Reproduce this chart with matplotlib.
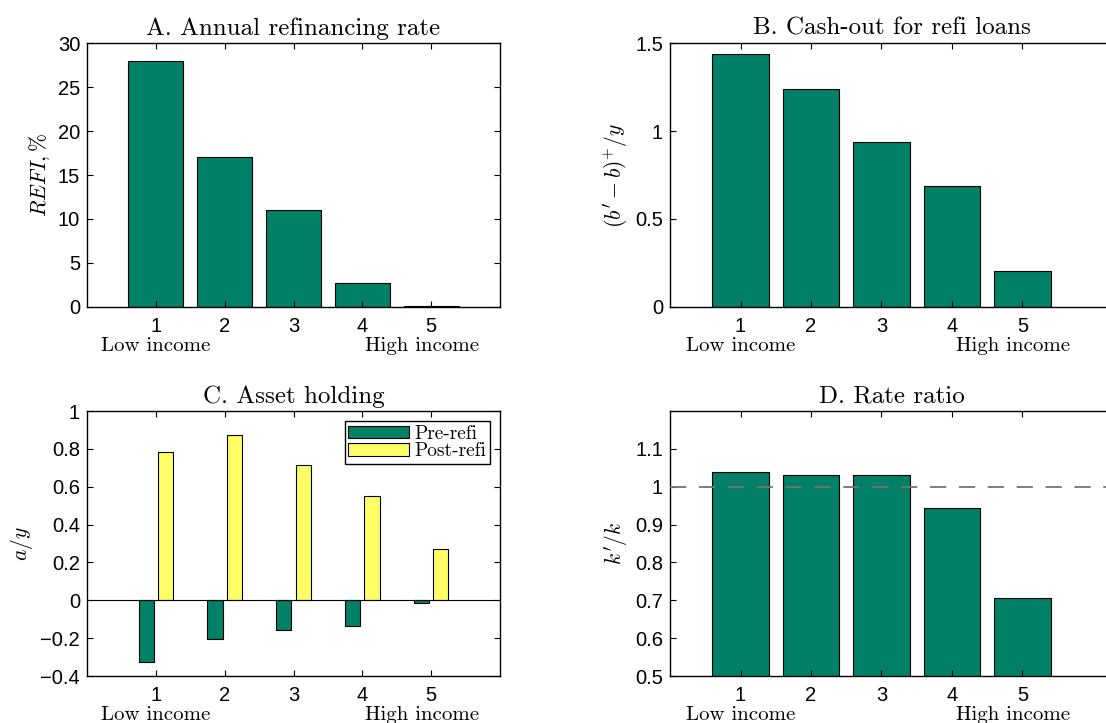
import numpy as np
import matplotlib.pyplot as plt
import matplotlib.transforms as mtransforms

# data
quintiles = [1, 2, 3, 4, 5]
refi_rate = [28.0, 17.1, 11.0, 2.75, 0.15]
cash_out = [1.44, 1.24, 0.935, 0.688, 0.206]
asset_pre = [-0.324, -0.204, -0.158, -0.136, -0.014]
asset_post = [0.781, 0.871, 0.715, 0.553, 0.273]
rate_ratio = [1.039, 1.030, 1.032, 0.943, 0.705]

green = '#008066'
yellow = '#FFFF66'
serif = 'cmr10'

plt.rcParams['font.family'] = ['Liberation Sans', 'DejaVu Sans']
plt.rcParams['mathtext.fontset'] = 'cm'
plt.rcParams['axes.linewidth'] = 1.0

fig = plt.figure(figsize=(11.06, 7.23), dpi=100)

axA = fig.add_axes([0.0787, 0.5754, 0.3734, 0.3651])
axB = fig.add_axes([0.6058, 0.5754, 0.4015, 0.3651])
axC = fig.add_axes([0.0787, 0.0650, 0.3734, 0.3665])
axD = fig.add_axes([0.6058, 0.0650, 0.4015, 0.3665])


def style(ax, title, ylabel, xmax=6):
    ax.set_xlim(0, xmax)
    ax.set_xticks(quintiles)
    ax.tick_params(direction='in', top=True, right=True, length=4,
                   labelsize=14.5, width=0.8)
    ax.tick_params(axis='x', pad=7)
    ax.tick_params(axis='y', pad=5)
    ax.set_title(title, fontfamily=serif, fontsize=18, pad=6)
    ax.set_ylabel(ylabel, fontsize=15.5, labelpad=4)
    tr = mtransforms.blended_transform_factory(ax.transData, ax.transAxes)
    ax.annotate('Low income', xy=(1, 0), xycoords=tr, xytext=(0, -39),
                textcoords='offset pixels', ha='center', va='center',
                fontfamily=serif, fontsize=15)
    ax.annotate('High income', xy=(4.87, 0), xycoords=tr, xytext=(0, -39),
                textcoords='offset pixels', ha='center', va='center',
                fontfamily=serif, fontsize=15)


# A
axA.bar(quintiles, refi_rate, width=0.8, color=green, edgecolor='black', linewidth=0.8)
axA.set_ylim(0, 30)
axA.set_yticks([0, 5, 10, 15, 20, 25, 30])
style(axA, 'A. Annual refinancing rate', r'$REFI,\%$')

# B
axB.bar(quintiles, cash_out, width=0.8, color=green, edgecolor='black', linewidth=0.8)
axB.set_ylim(0, 1.5)
axB.set_yticks([0, 0.5, 1, 1.5])
axB.set_yticklabels(['0', '0.5', '1', '1.5'])
style(axB, 'B. Cash-out for refi loans', r"$(b'-b)^{+}/y$", xmax=6.3)

# C
x = np.array(quintiles)
axC.bar(x - 0.14, asset_pre, width=0.22, color=green, edgecolor='black',
        linewidth=0.8, label='Pre-refi')
axC.bar(x + 0.14, asset_post, width=0.22, color=yellow, edgecolor='black',
        linewidth=0.8, label='Post-refi')
axC.axhline(0, color='black', linewidth=0.8)
axC.set_ylim(-0.4, 1)
yt = [-0.4, -0.2, 0, 0.2, 0.4, 0.6, 0.8, 1]
axC.set_yticks(yt)
axC.set_yticklabels(['\u22120.4', '\u22120.2', '0', '0.2', '0.4', '0.6', '0.8', '1'])
style(axC, 'C. Asset holding', r'$a/y$')
leg = axC.legend(loc='upper right', prop={'family': serif, 'size': 14},
                 fancybox=False, edgecolor='black', framealpha=1,
                 handlelength=3.1, handleheight=0.6, handletextpad=0.3,
                 labelspacing=0.0, borderpad=0.2, borderaxespad=0.5)
leg.get_frame().set_linewidth(1.0)

# D
axD.bar(quintiles, rate_ratio, width=0.8, color=green, edgecolor='black', linewidth=0.8)
axD.axhline(1, color='0.45', linewidth=1.3, linestyle=(0, (9, 7)), zorder=5)
axD.set_ylim(0.5, 1.2)
axD.set_yticks([0.5, 0.6, 0.7, 0.8, 0.9, 1.0, 1.1])
axD.set_yticklabels(['0.5', '0.6', '0.7', '0.8', '0.9', '1', '1.1'])
style(axD, 'D. Rate ratio', r"$k'/k$", xmax=6.3)

fig.savefig('out.png', dpi=100)
